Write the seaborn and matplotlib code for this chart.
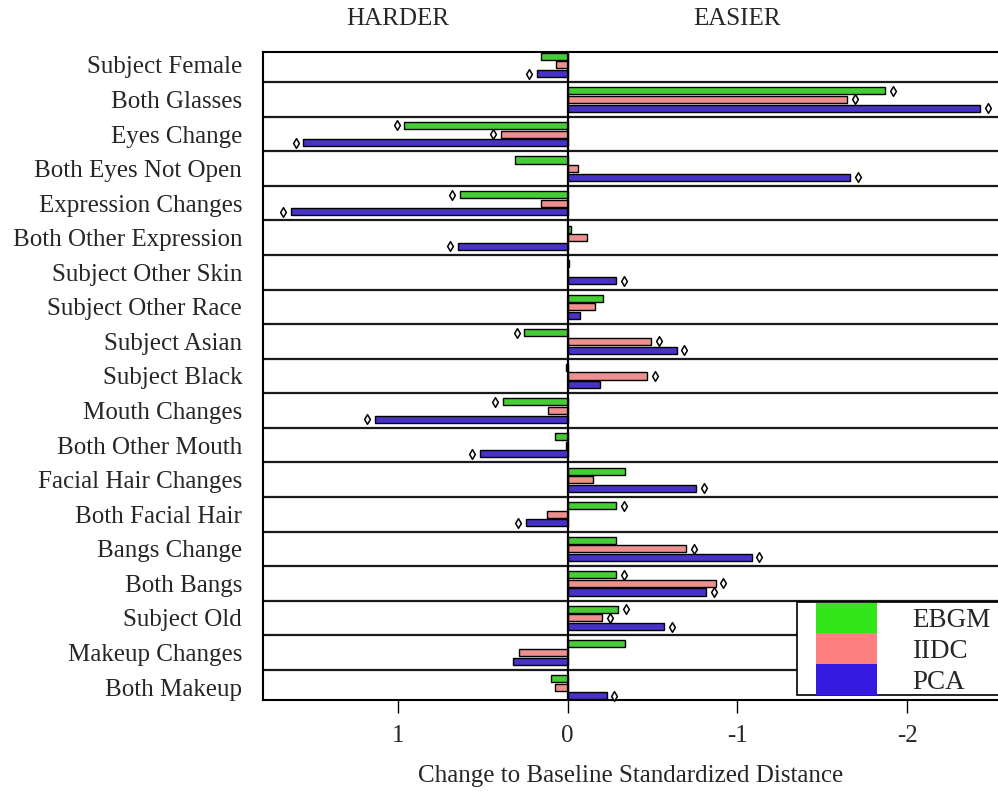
import numpy as np
import pandas as pd
import matplotlib
matplotlib.use("Agg")
import matplotlib.pyplot as plt
from matplotlib.patches import Patch, Rectangle
import seaborn as sns

# -----------------------
# Data
# -----------------------

factors = [
    "Subject Female", "Both Glasses", "Eyes Change", "Both Eyes Not Open",
    "Expression Changes", "Both Other Expression", "Subject Other Skin",
    "Subject Other Race", "Subject Asian", "Subject Black", "Mouth Changes",
    "Both Other Mouth", "Facial Hair Changes", "Both Facial Hair",
    "Bangs Change", "Both Bangs", "Subject Old", "Makeup Changes",
    "Both Makeup",
]

ebgm = [0.158, -1.871, 0.962, 0.313, 0.635, -0.022, -0.006, -0.208, 0.255,
        0.008, 0.380, 0.072, -0.341, -0.288, -0.283, -0.288, -0.299, -0.341,
        0.097]
iidc = [0.069, -1.647, 0.394, -0.064, 0.158, -0.114, 0.0, -0.164, -0.491,
        -0.469, 0.116, 0.011, -0.152, 0.119, -0.699, -0.873, -0.205, 0.288,
        0.075]
pca = [0.180, -2.431, 1.558, -1.666, 1.630, 0.646, -0.288, -0.075, -0.643,
       -0.191, 1.137, 0.518, -0.757, 0.247, -1.084, -0.818, -0.568, 0.322,
       -0.230]

# significance markers (diamonds)
sig_ebgm = [0, 1, 1, 0, 1, 0, 0, 0, 1, 0, 1, 0, 0, 1, 0, 1, 1, 0, 0]
sig_iidc = [0, 1, 1, 0, 0, 0, 0, 0, 1, 1, 0, 0, 0, 0, 1, 1, 1, 0, 0]
sig_pca = [1, 1, 1, 1, 1, 1, 1, 0, 1, 0, 1, 1, 1, 1, 1, 1, 1, 0, 1]

methods = ["EBGM", "IIDC", "PCA"]
colors = ["#33e61a", "#ff8080", "#3419e0"]

# -----------------------
# Long table for seaborn
# -----------------------

df = pd.DataFrame({
    "factor": factors * 3,
    "value": ebgm + iidc + pca,
    "method": [m for m in methods for _ in factors],
    "sig": sig_ebgm + sig_iidc + sig_pca,
})
df["factor"] = pd.Categorical(df["factor"], categories=factors, ordered=True)

# -----------------------
# Plot
# -----------------------

sns.set_style("white")
plt.rcParams["font.family"] = ["Liberation Serif", "DejaVu Serif"]
plt.rcParams["axes.unicode_minus"] = False

W, H = 998, 791
fig = plt.figure(figsize=(W / 100, H / 100), dpi=100)
ax = fig.add_axes([263 / W, 1 - 700 / H, 1 - 263 / W, (700 - 52) / H])

sns.barplot(
    data=df,
    x="value",
    y="factor",
    hue="method",
    orient="h",
    palette=colors,
    width=0.75,
    gap=0.18,
    edgecolor="black",
    linewidth=1.0,
    errorbar=None,
    legend=False,
    ax=ax,
)

# significance diamonds just past the end of each bar
offsets = {"EBGM": -0.25, "IIDC": 0.0, "PCA": 0.25}
marks = df[df["sig"] == 1].copy()
marks["y"] = marks["factor"].cat.codes + marks["method"].map(offsets)
marks["x"] = marks["value"] + np.sign(marks["value"]) * 0.045
ax.scatter(marks["x"], marks["y"], marker="d", s=24, facecolor="white",
           edgecolor="black", linewidth=1.1, zorder=5, clip_on=False)

# row separators and zero line
for i in range(len(factors) - 1):
    ax.axhline(i + 0.5, color="#1a1a1a", lw=1.6, zorder=1)
ax.axvline(0, color="black", lw=1.6, zorder=4)

ax.set_xlim(1.795, -2.536)
ax.set_ylim(len(factors) - 1 + 0.374, -0.374)

ax.set_xticks([1, 0, -1, -2])
ax.set_xticklabels(["1", "0", "-1", "-2"])
ax.tick_params(axis="x", direction="out", length=9, width=1.0,
               labelsize=18, pad=9, bottom=True, color="black")
ax.tick_params(axis="y", length=0, labelsize=18, pad=15)

ax.set_xlabel("Change to Baseline Standardized Distance", fontsize=18,
              labelpad=13)
ax.set_ylabel("")

for side in ["left", "bottom", "top"]:
    ax.spines[side].set_visible(True)
    ax.spines[side].set_color("black")
    ax.spines[side].set_linewidth(1.5)
ax.spines["right"].set_visible(False)

# column headings
trans = matplotlib.transforms.blended_transform_factory(ax.transData, fig.transFigure)
ax.text(1, 1 - 19 / H, "HARDER", transform=trans, ha="center",
        va="center", fontsize=18)
ax.text(-1, 1 - 19 / H, "EASIER", transform=trans, ha="center",
        va="center", fontsize=18)

# legend (frame drawn separately so the swatches fill its full height)
fig.add_artist(Rectangle((797 / W, 1 - 695 / H), (1010 - 797) / W, 93 / H,
                         transform=fig.transFigure, fill=True,
                         facecolor="white", edgecolor="black", lw=1.2,
                         zorder=6))
handles = [Patch(facecolor=c, edgecolor="none", label=m)
           for m, c in zip(methods, colors)]
leg = fig.legend(
    handles=handles,
    loc="lower left",
    bbox_to_anchor=(816 / W, 1 - 695 / H),
    frameon=False,
    fontsize=19.5,
    handlelength=2.25,
    handleheight=1.37,
    labelspacing=0.0,
    handletextpad=1.3,
    borderpad=0.0,
    borderaxespad=0.0,
)
leg.set_zorder(7)

fig.savefig("out.png", dpi=100)
plt.close(fig)
